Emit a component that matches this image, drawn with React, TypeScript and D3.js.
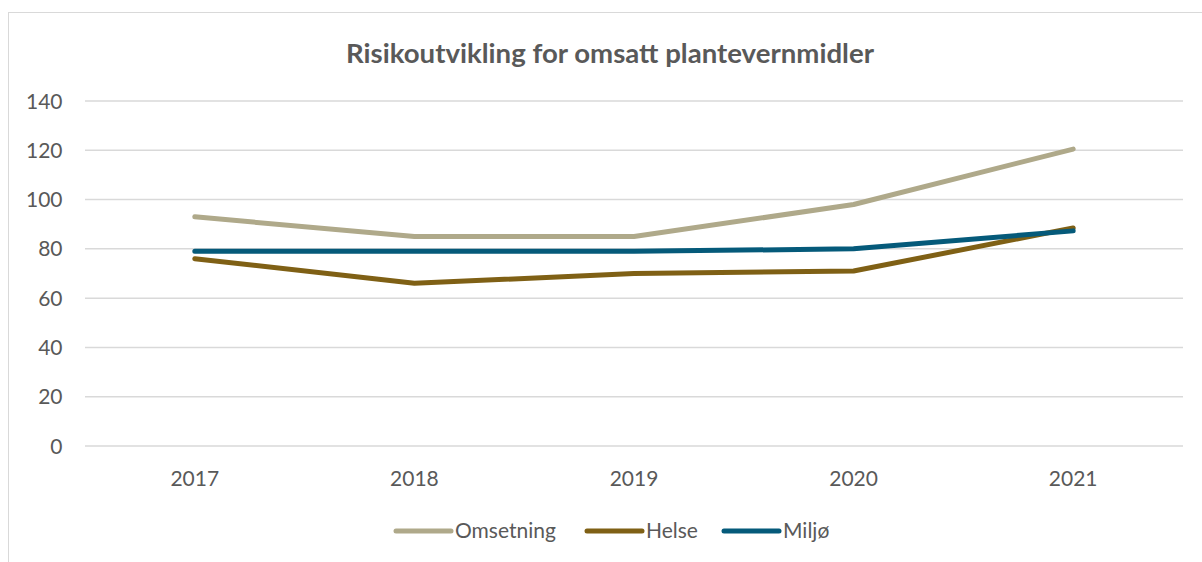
import React from "react";
import * as d3 from "d3";

const years = ["2017", "2018", "2019", "2020", "2021"];
const omsetning = [93, 85, 85, 98, 120.5];
const helse = [76, 66, 70, 71, 88.5];
const miljo = [79, 79, 79, 80, 87.3];
const yTicks = [0, 20, 40, 60, 80, 100, 120, 140];
const seriesNames = ["Omsetning", "Helse", "Miljø"];
const seriesColors = ["#AFA98A", "#7F6015", "#055A7A"];

const W = 1202;
const H = 562;
const FONT = "Lato, 'Open Sans', sans-serif";

export default function App() {
  const x = d3.scaleBand().domain(years).range([85, 1183]);
  const y = d3.scaleLinear().domain([0, 140]).range([446, 101]);
  const line = d3
    .line<number>()
    .x((_, i) => (x(years[i]) as number) + x.bandwidth() / 2)
    .y((d) => y(d));
  const data = [omsetning, helse, miljo];
  const legendX = [396, 587, 724];

  return (
    <svg width={W} height={H} style={{ position: "absolute", left: 0, top: 0 }}>
      <rect x={0} y={0} width={W} height={H} fill="#fff" />
      <rect x={8.5} y={12.5} width={1210} height={600} fill="none" stroke="#d9d9d9" strokeWidth={1} />
      <text x={346} y={63} textLength={528} lengthAdjust="spacingAndGlyphs" fontFamily={FONT} fontWeight="bold" fontSize={27.5} fill="#595959">
        Risikoutvikling for omsatt plantevernmidler
      </text>
      {yTicks.map((t) => (
        <g key={t}>
          <line x1={85} x2={1183} y1={y(t)} y2={y(t)} stroke="#d9d9d9" strokeWidth={1.5} />
          <text x={62.5} y={y(t) + 7.5} textAnchor="end" fontFamily={FONT} fontSize={21} fill="#595959">
            {t}
          </text>
        </g>
      ))}
      {years.map((yr) => (
        <text key={yr} x={(x(yr) as number) + x.bandwidth() / 2} y={486} textAnchor="middle" fontFamily={FONT} fontSize={21} fill="#595959">
          {yr}
        </text>
      ))}
      {data.map((d, i) => (
        <path key={i} d={line(d) || ""} fill="none" stroke={seriesColors[i]} strokeWidth={5} strokeLinecap="round" strokeLinejoin="round" />
      ))}
      {seriesNames.map((n, i) => (
        <g key={n}>
          <line x1={legendX[i]} x2={legendX[i] + 55} y1={531} y2={531} stroke={seriesColors[i]} strokeWidth={5} strokeLinecap="round" />
          <text x={legendX[i] + 59} y={538} fontFamily={FONT} fontSize={21} fill="#595959">
            {n}
          </text>
        </g>
      ))}
    </svg>
  );
}
